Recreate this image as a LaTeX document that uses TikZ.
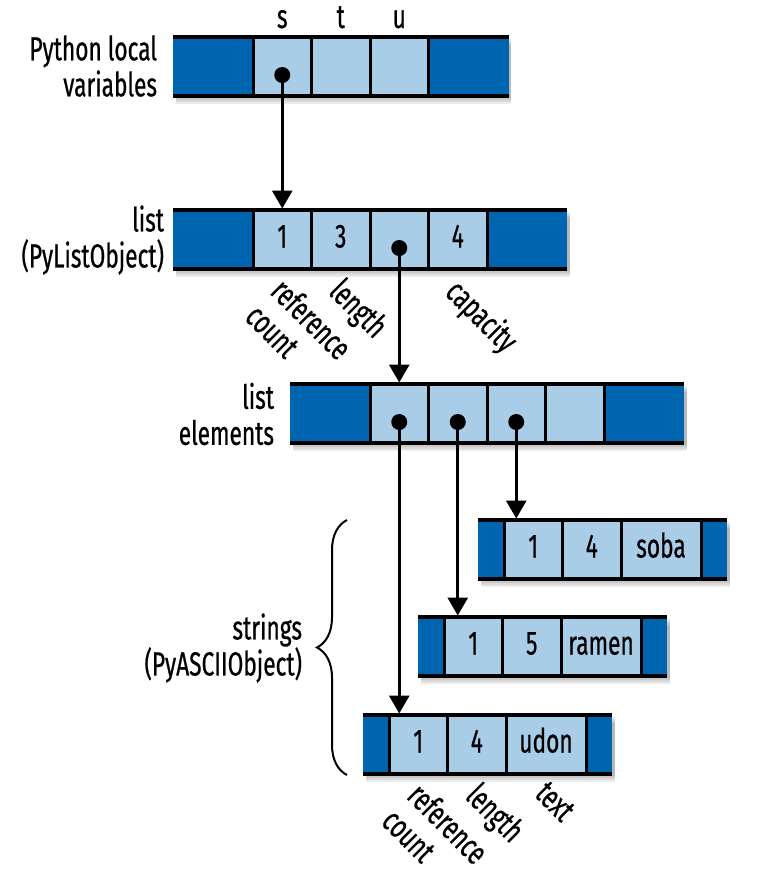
\documentclass[tikz,border=0pt]{standalone}
\usepackage{fontspec}
\setmainfont{Fira Sans}[FakeStretch=0.68, FakeBold=0.6]
\usetikzlibrary{positioning,arrows.meta,decorations.pathreplacing,backgrounds}
\definecolor{darkblue}{RGB}{0,101,177}
\definecolor{lightblue}{RGB}{169,204,231}

\begin{document}
\begin{tikzpicture}[x=0.2mm, y=-0.2mm,
  every node/.style={font=\fontsize{19pt}{20.5pt}\selectfont, inner sep=0pt, outer sep=0pt},
  cell/.style={fill=lightblue, minimum width=11.7mm, minimum height=11.8mm, text height=4.2mm, text depth=1mm},
  textcell/.style={cell, minimum width=16mm},
  endcap/.style={fill=darkblue, minimum width=16mm, minimum height=11.8mm},
  smallcap/.style={endcap, minimum width=5.2mm},
  rowline/.style={line width=0.8mm},
  divider/.style={line width=0.6mm},
  ptr/.style={line width=0.6mm, shorten >=0.3mm, -{Triangle[width=4mm,length=3.6mm]}},
  dot/.style={circle, fill=black, minimum size=3.2mm},
  field/.style={rotate=-45, anchor=north west, align=left},
  side/.style={anchor=east, align=right},
]
\useasboundingbox (0,0) rectangle (768,875);

% local variables
\node[endcap, anchor=north west] (v0) at (173,37) {};
\node[cell, right=0pt of v0] (vs) {};
\node[cell, right=0pt of vs] (vt) {};
\node[cell, right=0pt of vt] (vu) {};
\node[endcap, right=0pt of vu] (v1) {};
\node[anchor=base] (ls) at ([yshift=1.8mm]vs.north) {s};
\node[anchor=base] (lt) at ([yshift=1.8mm]vt.north) {t};
\node[anchor=base] (lu) at ([yshift=1.8mm]vu.north) {u};
\node[side] (lblvars) at (157,66) {Python local\\variables};

% list object
\node[endcap, anchor=north west] (l0) at (173,210) {};
\node[cell, right=0pt of l0] (lrc) {1};
\node[cell, right=0pt of lrc] (llen) {3};
\node[cell, right=0pt of llen] (lptr) {};
\node[cell, right=0pt of lptr] (lcap) {4};
\node[endcap, right=0pt of lcap] (l1) {};
\node[side] (lbllist) at (164,240) {list\\(PyListObject)};
\node[field] (flrc) at ([xshift=0.9mm,yshift=-1.3mm]lrc.south) {reference\\count};
\node[field] (fllen) at ([xshift=0.9mm,yshift=-1.3mm]llen.south) {length};
\node[field] (flcap) at ([xshift=0.9mm,yshift=-1.3mm]lcap.south) {capacity};

% list elements
\node[endcap, anchor=north west] (e0) at (290,384) {};
\node[cell, right=0pt of e0] (ea) {};
\node[cell, right=0pt of ea] (eb) {};
\node[cell, right=0pt of eb] (ec) {};
\node[cell, right=0pt of ec] (ed) {};
\node[endcap, right=0pt of ed] (e1) {};
\node[side] (lblelems) at (274,414) {list\\elements};

% strings
\node[smallcap, anchor=north west] (sb0) at (478,520) {};
\node[cell, right=0pt of sb0] (sbrc) {1};
\node[cell, right=0pt of sbrc] (sblen) {4};
\node[textcell, right=0pt of sblen] (sbtxt) {soba};
\node[smallcap, right=0pt of sbtxt] (sb1) {};

\node[smallcap, anchor=north west] (rm0) at (418,617) {};
\node[cell, right=0pt of rm0] (rmrc) {1};
\node[cell, right=0pt of rmrc] (rmlen) {5};
\node[textcell, right=0pt of rmlen] (rmtxt) {ramen};
\node[smallcap, right=0pt of rmtxt] (rm1) {};

\node[smallcap, anchor=north west] (ud0) at (363,715) {};
\node[cell, right=0pt of ud0] (udrc) {1};
\node[cell, right=0pt of udrc] (udlen) {4};
\node[textcell, right=0pt of udlen] (udtxt) {udon};
\node[smallcap, right=0pt of udtxt] (ud1) {};
\node[field] (fudrc) at ([xshift=1mm,yshift=-1.2mm]udrc.south) {reference\\count};
\node[field] (fudlen) at ([xshift=1mm,yshift=-1.2mm]udlen.south) {length};
\node[field] (fudtxt) at ([xshift=0.6mm,yshift=-1.2mm]udtxt.south) {text};

\node[side] (lblstr) at (302,648) {strings\\(PyASCIIObject)};
\coordinate (bt) at (347,520);
\coordinate (bb) at (347,775);
\draw[decorate, decoration={brace, amplitude=6mm}, line width=0.4mm] (bb) -- (bt);

% row borders
\foreach \a/\b/\cs in {v0/v1/{vs,vt,vu,v1}, l0/l1/{lrc,llen,lptr,lcap,l1},
    e0/e1/{ea,eb,ec,ed,e1}, sb0/sb1/{sbrc,sblen,sbtxt,sb1},
    rm0/rm1/{rmrc,rmlen,rmtxt,rm1}, ud0/ud1/{udrc,udlen,udtxt,ud1}} {
  \draw[rowline] (\a.north west) -- (\b.north east) (\a.south west) -- (\b.south east);
  \foreach \c in \cs
    \draw[divider] (\c.north west) -- (\c.south west);
  \begin{scope}[on background layer]
    \foreach \s in {0.4,0.8,1.2,1.6}
      \fill[black, opacity=0.08] ([xshift=0.5mm,yshift=-\s mm]\a.north west) rectangle ([xshift=0.5mm,yshift=-\s mm]\b.south east);
  \end{scope}
}

% pointers
\node[dot] (ds) at ([yshift=-1.7mm]vs.center) {};
\node[dot] (dl) at ([yshift=-1.7mm]lptr.center) {};
\node[dot] (da) at ([yshift=-1.7mm]ea.center) {};
\node[dot] (db) at ([yshift=-1.7mm]eb.center) {};
\node[dot] (dc) at ([yshift=-1.7mm]ec.center) {};
\draw[ptr] (ds.center) -- (ds.center |- lrc.north);
\draw[ptr] (dl.center) -- (dl.center |- ea.north);
\draw[ptr] (da.center) -- (da.center |- udrc.north);
\draw[ptr] (db.center) -- (db.center |- rmrc.north);
\draw[ptr] (dc.center) -- (dc.center |- sbrc.north);
\end{tikzpicture}
\end{document}
